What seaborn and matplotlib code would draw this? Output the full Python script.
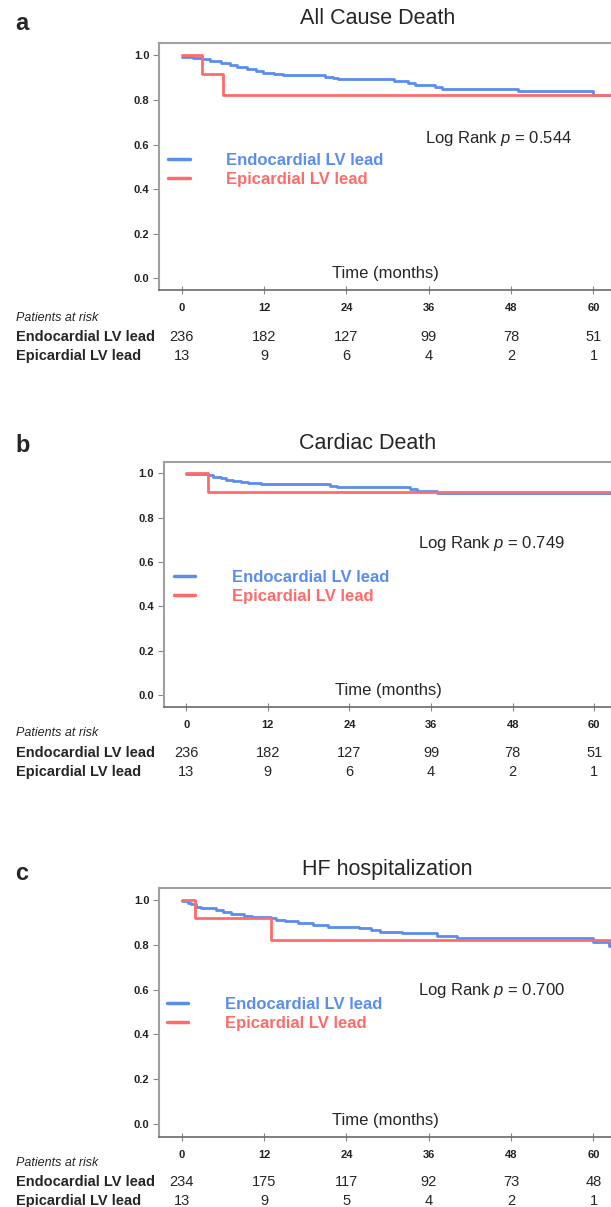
import matplotlib
matplotlib.use("Agg")
import pandas as pd
import matplotlib.pyplot as plt
import matplotlib.transforms as mtrans
import seaborn as sns

# tamanho da figura em pixels (dpi 100)
W, H = 611, 1207

GRUPOS = ["Endocardial LV lead", "Epicardial LV lead"]
CORES = {"Endocardial LV lead": "#5b8def", "Epicardial LV lead": "#ff6b6b"}
MESES = [0, 12, 24, 36, 48, 60]
Y_TICKS = [0.0, 0.2, 0.4, 0.6, 0.8, 1.0]

# a - All Cause Death
a_endo_t = [0, 1.7, 3.0, 4.1, 5.8, 7.0, 8.0, 9.5, 10.9, 11.9, 13.4, 14.8, 20.9, 22.0,
            22.8, 30.9, 33.0, 34.0, 36.9, 37.9, 49.0, 60.0, 66.0]
a_endo_s = [0.994, 0.989, 0.984, 0.976, 0.966, 0.955, 0.946, 0.938, 0.930, 0.922, 0.918,
            0.912, 0.905, 0.899, 0.894, 0.885, 0.876, 0.867, 0.859, 0.850, 0.841, 0.822, 0.822]
a_epi_t = [0, 3.0, 6.0, 66.0]
a_epi_s = [1.0, 0.915, 0.824, 0.824]
a_risco_endo = [236, 182, 127, 99, 78, 51]
a_risco_epi = [13, 9, 6, 4, 2, 1]

# b - Cardiac Death
b_endo_t = [0, 3.2, 3.9, 5.1, 5.9, 6.9, 8.1, 9.1, 11.0, 21.1, 22.1, 32.9, 33.9, 36.8, 66.0]
b_endo_s = [0.996, 0.992, 0.985, 0.977, 0.970, 0.965, 0.959, 0.955, 0.950, 0.944, 0.937,
            0.928, 0.920, 0.910, 0.910]
b_epi_t = [0, 3.2, 66.0]
b_epi_s = [1.0, 0.917, 0.917]
b_risco_endo = [236, 182, 127, 99, 78, 51]
b_risco_epi = [13, 9, 6, 4, 2, 1]

# c - HF hospitalization
c_endo_t = [0, 0.9, 1.4, 2.1, 2.8, 5.0, 6.0, 7.2, 9.1, 10.3, 13.0, 13.7, 15.0, 16.9, 19.1,
            21.3, 25.9, 27.6, 28.9, 32.1, 37.2, 40.1, 60.0, 62.2, 66.0]
c_endo_s = [0.996, 0.988, 0.982, 0.970, 0.963, 0.953, 0.944, 0.936, 0.930, 0.926, 0.919,
            0.911, 0.904, 0.896, 0.889, 0.881, 0.874, 0.867, 0.859, 0.852, 0.841, 0.830,
            0.812, 0.796, 0.796]
c_epi_t = [0, 2.0, 13.0, 66.0]
c_epi_s = [1.0, 0.921, 0.820, 0.820]
c_risco_endo = [234, 175, 117, 92, 73, 48]
c_risco_epi = [13, 9, 5, 4, 2, 1]

PAINEIS = [
    {"letra": "a", "titulo": "All Cause Death", "p": "0.544",
     "endo": (a_endo_t, a_endo_s), "epi": (a_epi_t, a_epi_s),
     "risco": (a_risco_endo, a_risco_epi)},
    {"letra": "b", "titulo": "Cardiac Death", "p": "0.749",
     "endo": (b_endo_t, b_endo_s), "epi": (b_epi_t, b_epi_s),
     "risco": (b_risco_endo, b_risco_epi)},
    {"letra": "c", "titulo": "HF hospitalization", "p": "0.700",
     "endo": (c_endo_t, c_endo_s), "epi": (c_epi_t, c_epi_s),
     "risco": (c_risco_endo, c_risco_epi)},
]

# posicoes em pixels de cada painel (layout)
LAYOUT = [
    {"left": 159, "top": 43.3, "bottom": 290, "xlim": (-3.3, 62.55), "ylim": (-0.052, 1.054),
     "tit": (378, 19), "let_y": 23, "lr": (0.588, 0.615), "leg": (0.02, 0.486),
     "risco_y": (318, 337, 356)},
    {"left": 163.7, "top": 461.7, "bottom": 707.3, "xlim": (-3.32, 62.46), "ylim": (-0.054, 1.052),
     "tit": (368, 443.3), "let_y": 445, "lr": (0.568, 0.668), "leg": (0.022, 0.49),
     "risco_y": (733.3, 753.3, 771.7)},
    {"left": 159, "top": 888.3, "bottom": 1136.7, "xlim": (-3.3, 62.55), "ylim": (-0.057, 1.052),
     "tit": (387, 870), "let_y": 873, "lr": (0.573, 0.59), "leg": (0.017, 0.495),
     "risco_y": (1163.3, 1182.3, 1200.7)},
]


def configurar_fontes():
    sns.set_style("white")
    plt.rcParams["font.family"] = ["Liberation Sans", "DejaVu Sans"]
    plt.rcParams["mathtext.fontset"] = "custom"
    plt.rcParams["mathtext.rm"] = "Liberation Sans"
    plt.rcParams["mathtext.it"] = "Liberation Sans:italic"


def desenhar_painel(fig, painel, lay):
    ax = fig.add_axes([lay["left"] / W, 1 - lay["bottom"] / H,
                       (W - lay["left"]) / W, (lay["bottom"] - lay["top"]) / H])
    df = pd.concat([
        pd.DataFrame({"month": painel["endo"][0], "surv": painel["endo"][1], "group": GRUPOS[0]}),
        pd.DataFrame({"month": painel["epi"][0], "surv": painel["epi"][1], "group": GRUPOS[1]}),
    ])
    sns.lineplot(data=df, x="month", y="surv", hue="group", hue_order=GRUPOS, palette=CORES,
                 drawstyle="steps-post", estimator=None, linewidth=2, ax=ax)

    ax.set_xlim(lay["xlim"])
    ax.set_ylim(lay["ylim"])
    ax.set_xticks(MESES)
    ax.set_yticks(Y_TICKS)
    ax.set_yticklabels([f"{v:.1f}" for v in Y_TICKS])
    ax.set_xlabel("")
    ax.set_ylabel("")

    ax.spines["right"].set_visible(False)
    for s in ["left", "top"]:
        ax.spines[s].set_color("#a0a0a0")
        ax.spines[s].set_linewidth(1.5)
    ax.spines["bottom"].set_color("#6a6a6a")
    ax.spines["bottom"].set_linewidth(1.2)

    ax.tick_params(axis="y", left=True, direction="out", length=4, width=0.8,
                   color="#888888", pad=3, labelsize=8)
    ax.tick_params(axis="x", bottom=True, direction="inout", length=6, width=0.8,
                   color="#888888", pad=6.5, labelsize=8)
    for lbl in ax.get_xticklabels() + ax.get_yticklabels():
        lbl.set_fontweight("bold")
        lbl.set_color("#222222")

    h, l = ax.get_legend_handles_labels()
    leg = ax.legend(h, l, loc="center left", bbox_to_anchor=lay["leg"], frameon=False,
                    prop={"weight": "bold", "size": 12}, labelcolor="linecolor",
                    handlelength=1.3, handletextpad=2.2, labelspacing=0.25,
                    borderpad=0, borderaxespad=0)
    for linha in leg.get_lines():
        linha.set_linewidth(2.5)

    ax.text(lay["lr"][0], lay["lr"][1], f"Log Rank $p$ = {painel['p']}",
            transform=ax.transAxes, fontsize=12, va="center", ha="left")
    ax.text(0.502, 0.067, "Time (months)", transform=ax.transAxes,
            fontsize=12, va="center", ha="center")

    fig.text(lay["tit"][0] / W, 1 - lay["tit"][1] / H, painel["titulo"],
             fontsize=15.5, ha="center", va="center")
    fig.text(15 / W, 1 - lay["let_y"] / H, painel["letra"], fontsize=17,
             fontweight="bold", ha="left", va="center")

    # tabela de pacientes em risco
    trans = mtrans.blended_transform_factory(ax.transData, fig.transFigure)
    y0, y1, y2 = [1 - v / H for v in lay["risco_y"]]
    fig.text(15.6 / W, y0, "Patients at risk", style="italic", fontsize=9, va="center")
    for y, nome, valores in [(y1, GRUPOS[0], painel["risco"][0]),
                             (y2, GRUPOS[1], painel["risco"][1])]:
        fig.text(15.6 / W, y, nome, fontweight="bold", fontsize=10.5, va="center")
        for m, n in zip(MESES, valores):
            ax.text(m, y, str(n), transform=trans, ha="center", va="center",
                    fontsize=10.5, clip_on=False)
    return ax


def main():
    configurar_fontes()
    fig = plt.figure(figsize=(W / 100, H / 100), dpi=100)
    fig.patch.set_facecolor("white")
    for painel, lay in zip(PAINEIS, LAYOUT):
        desenhar_painel(fig, painel, lay)
    fig.savefig("out.png", dpi=100, facecolor="white")


main()
